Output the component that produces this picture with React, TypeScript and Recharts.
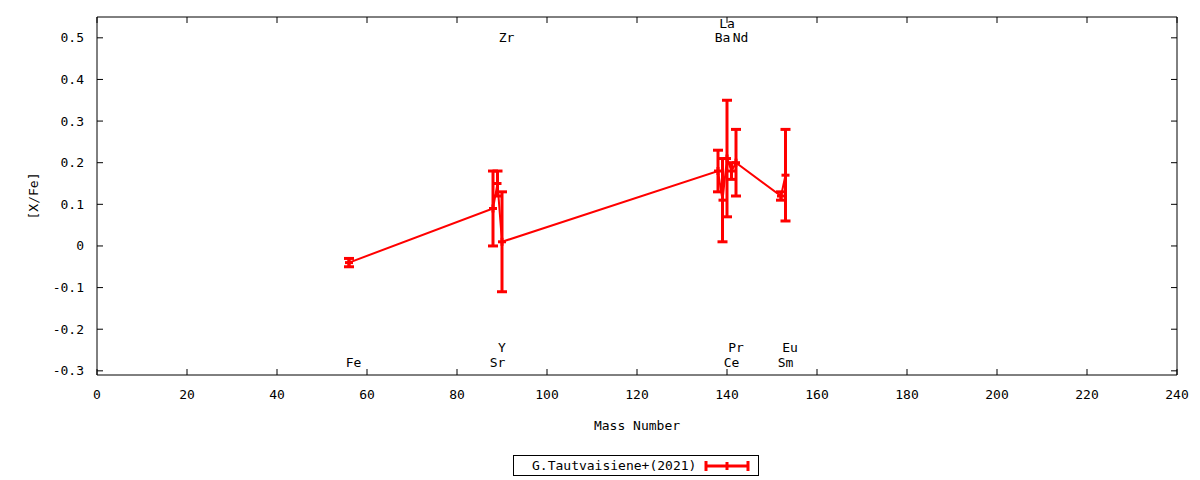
import React from 'react';
import { ComposedChart, Line, Scatter, XAxis, YAxis, ErrorBar, Legend } from 'recharts';

const elements = ['Fe', 'Sr', 'Y', 'Zr', 'Ba', 'La', 'Ce', 'Pr', 'Nd', 'Sm', 'Eu'];
const massNumbers = [56, 88, 89, 90, 138, 139, 140, 141, 142, 152, 153];
const xFe = [-0.04, 0.09, 0.15, 0.01, 0.18, 0.11, 0.21, 0.18, 0.2, 0.12, 0.17];
const xFeErr = [0.01, 0.09, 0.03, 0.12, 0.05, 0.1, 0.14, 0.02, 0.08, 0.01, 0.11];
const labelY = [-0.28, -0.28, -0.245, 0.5, 0.5, 0.535, -0.28, -0.245, 0.5, -0.28, -0.245];

const xTicks = [0, 20, 40, 60, 80, 100, 120, 140, 160, 180, 200, 220, 240];
const yTicks = [-0.3, -0.2, -0.1, 0, 0.1, 0.2, 0.3, 0.4, 0.5];

const seriesName = 'G.Tautvaisiene+(2021)';
const RED = '#ff0000';
const FONT = '"DejaVu Sans Mono", monospace';

// plot frame edges (px), used only for the mirrored inward ticks
const PLOT_TOP = 17;
const PLOT_RIGHT = 1177;

const points = massNumbers.map((m, i) => ({ x: m, y: xFe[i], err: xFeErr[i] }));
const labels = elements.map((name, i) => ({ x: massNumbers[i] + 1, y: labelY[i], name }));

const textStyle = { fontFamily: FONT, fontSize: 13, fill: '#000' };

function BottomTick({ x, y, payload }: any) {
  return (
    <g>
      <line x1={x} y1={y} x2={x} y2={y - 6} stroke="#000" />
      <line x1={x} y1={PLOT_TOP} x2={x} y2={PLOT_TOP + 6} stroke="#000" />
      <text x={x} y={y + 19} textAnchor="middle" dominantBaseline="central" style={textStyle}>
        {payload.value}
      </text>
    </g>
  );
}

function LeftTick({ x, y, payload }: any) {
  const v = payload.value;
  const txt = Math.abs(v) < 1e-9 ? '0' : v.toFixed(1);
  return (
    <g>
      <line x1={x} y1={y} x2={x + 6} y2={y} stroke="#000" />
      <line x1={PLOT_RIGHT} y1={y} x2={PLOT_RIGHT - 6} y2={y} stroke="#000" />
      <text x={x - 13} y={y} textAnchor="end" dominantBaseline="central" style={textStyle}>
        {txt}
      </text>
    </g>
  );
}

function PlusDot({ cx, cy }: any) {
  if (cx == null || cy == null) return null;
  return (
    <g>
      <line x1={cx - 4} y1={cy} x2={cx + 4} y2={cy} stroke={RED} strokeWidth={3} />
      <line x1={cx} y1={cy - 4} x2={cx} y2={cy + 4} stroke={RED} strokeWidth={3} />
    </g>
  );
}

function ElementLabel({ cx, cy, payload }: any) {
  return (
    <text x={cx} y={cy} textAnchor="middle" dominantBaseline="central" style={textStyle}>
      {payload.name}
    </text>
  );
}

function LegendBox() {
  return (
    <div style={{ height: 40, paddingTop: 15, boxSizing: 'border-box' }}>
      <div
        style={{
          marginLeft: 513,
          width: 246,
          height: 21,
          border: '1px solid #000',
          boxSizing: 'border-box',
          display: 'flex',
          alignItems: 'center',
          fontFamily: FONT,
          fontSize: 13,
          color: '#000',
        }}
      >
        <span style={{ marginLeft: 18 }}>{seriesName}</span>
        <svg width={46} height={14} style={{ marginLeft: 8 }}>
          <line x1={2} y1={7} x2={44} y2={7} stroke={RED} strokeWidth={3} />
          <line x1={2} y1={2} x2={2} y2={12} stroke={RED} strokeWidth={3} />
          <line x1={44} y1={2} x2={44} y2={12} stroke={RED} strokeWidth={3} />
          <line x1={23} y1={3} x2={23} y2={11} stroke={RED} strokeWidth={3} />
        </svg>
      </div>
    </div>
  );
}

export default function App() {
  return (
    <div style={{ position: 'absolute', left: 0, top: 0, width: 1200, height: 480, background: '#fff' }}>
      <ComposedChart width={1200} height={480} margin={{ top: 16, right: 22, bottom: 0, left: 0 }}>
        <XAxis
          xAxisId="bottom"
          dataKey="x"
          type="number"
          domain={[0, 240]}
          ticks={xTicks}
          interval={0}
          height={65}
          tickSize={0}
          tickMargin={0}
          tickLine={false}
          stroke="#000"
          tick={<BottomTick />}
          label={({ viewBox }: any) => (
            <text
              x={viewBox ? viewBox.x + viewBox.width / 2 : 637}
              y={425}
              textAnchor="middle"
              dominantBaseline="central"
              style={textStyle}
            >
              Mass Number
            </text>
          )}
        />
        <XAxis xAxisId="top" orientation="top" type="number" domain={[0, 240]} height={1} tick={false} tickLine={false} stroke="#000" />
        <YAxis
          yAxisId="left"
          type="number"
          domain={[-0.31, 0.55]}
          ticks={yTicks}
          interval={0}
          width={97}
          tickSize={0}
          tickMargin={0}
          tickLine={false}
          stroke="#000"
          tick={<LeftTick />}
          label={({ viewBox }: any) => {
            const cy = viewBox ? viewBox.y + viewBox.height / 2 : 196;
            return (
              <text
                x={33}
                y={cy}
                transform={`rotate(-90 33 ${cy})`}
                textAnchor="middle"
                dominantBaseline="central"
                style={textStyle}
              >
                [X/Fe]
              </text>
            );
          }}
        />
        <YAxis yAxisId="right" orientation="right" type="number" domain={[-0.31, 0.55]} width={1} tick={false} tickLine={false} stroke="#000" />
        <Line
          xAxisId="bottom"
          yAxisId="left"
          data={points}
          dataKey="y"
          name={seriesName}
          type="linear"
          stroke={RED}
          strokeWidth={2}
          dot={(p: any) => <PlusDot key={`d${p.index}`} {...p} />}
          activeDot={false}
          isAnimationActive={false}
        >
          <ErrorBar dataKey="err" direction="y" width={5} stroke={RED} strokeWidth={3} isAnimationActive={false} />
        </Line>
        <Scatter
          xAxisId="bottom"
          yAxisId="left"
          data={labels}
          dataKey="y"
          shape={(p: any) => <ElementLabel {...p} />}
          isAnimationActive={false}
          legendType="none"
        />
        <Legend verticalAlign="bottom" height={40} content={() => <LegendBox />} />
      </ComposedChart>
    </div>
  );
}
